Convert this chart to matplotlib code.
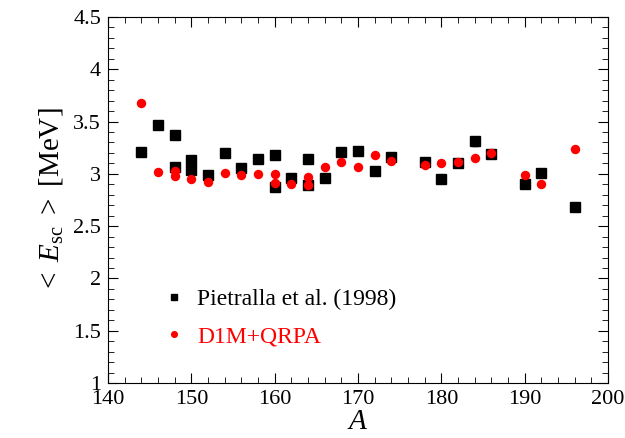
import matplotlib
matplotlib.use("Agg")
import matplotlib.pyplot as plt
from matplotlib.ticker import MultipleLocator

plt.rcParams["font.family"] = ["Liberation Serif", "DejaVu Serif"]
plt.rcParams["mathtext.fontset"] = "custom"
plt.rcParams["mathtext.rm"] = "Liberation Serif"
plt.rcParams["mathtext.it"] = "Liberation Serif:italic"

# Pietralla et al. (1998) experimental values
exp_A = [144, 146, 148, 148, 150, 150, 152, 154, 156, 158, 160, 160, 162, 164, 164,
         166, 168, 170, 172, 174, 178, 180, 182, 184, 186, 190, 192, 196]
exp_E = [3.21, 3.47, 3.375, 3.07, 3.13, 3.04, 2.99, 3.20, 3.06, 3.14, 3.18, 2.87, 2.96, 3.14, 2.89,
         2.96, 3.21, 3.22, 3.03, 3.16, 3.11, 2.95, 3.10, 3.31, 3.19, 2.90, 3.01, 2.68]
exp_err = [0.0, 0.0, 0.0, 0.0, 0.0, 0.0, 0.0, 0.0, 0.0, 0.0, 0.0, 0.0, 0.0, 0.0, 0.0,
           0.0, 0.0, 0.0, 0.04, 0.02, 0.0, 0.0, 0.0, 0.04, 0.0, 0.0, 0.0, 0.0]

# D1M+QRPA calculation
th_A = [144, 146, 148, 148, 150, 152, 154, 156, 158, 160, 160, 162, 164, 164,
        166, 168, 170, 172, 174, 178, 180, 182, 184, 186, 190, 192, 196]
th_E = [3.68, 3.02, 3.03, 2.98, 2.955, 2.92, 3.01, 2.99, 3.00, 3.00, 2.91, 2.90, 2.97, 2.89,
        3.07, 3.11, 3.07, 3.18, 3.12, 3.08, 3.10, 3.11, 3.15, 3.20, 2.99, 2.90, 3.24]

fig = plt.figure(figsize=(6.25, 4.38), dpi=100)
ax = fig.add_axes([0.1728, 0.1256, 0.80, 0.8356])

ax.errorbar(exp_A, exp_E, yerr=exp_err, fmt="none", ecolor="black",
            elinewidth=1, capsize=2, zorder=2)
h_exp, = ax.plot(exp_A, exp_E, "s", color="black", ms=6.5, zorder=2,
                 label="Pietralla et al. (1998)")
h_th, = ax.plot(th_A, th_E, "o", color="red", ms=6.8, mec="none",
                label="D1M+QRPA", zorder=3)

ax.set_xlim(140, 200)
ax.set_ylim(1, 4.5)
ax.xaxis.set_major_locator(MultipleLocator(10))
ax.xaxis.set_minor_locator(MultipleLocator(2))
ax.yaxis.set_major_locator(MultipleLocator(0.5))
ax.yaxis.set_minor_locator(MultipleLocator(0.1))
ax.yaxis.set_major_formatter(plt.FuncFormatter(lambda v, p: f"{v:g}"))
ax.tick_params(which="both", direction="in", top=True, right=True, labelsize=16)
ax.tick_params(which="major", length=7, pad=5)
ax.tick_params(which="minor", length=4)

ax.set_xlabel(r"$\mathit{A}$", fontsize=21, labelpad=0)
ax.set_ylabel(r"$<\ \mathit{E}_{\mathrm{sc}}\ >$ [MeV]", fontsize=21, labelpad=6)

leg = ax.legend(handles=[h_exp, h_th], loc="lower left",
                bbox_to_anchor=(0.065, 0.04), frameon=False,
                fontsize=17, handletextpad=0.5, labelspacing=0.65,
                markerscale=0.75, handlelength=1.0)
for txt, c in zip(leg.get_texts(), ["black", "red"]):
    txt.set_color(c)

plt.savefig("out.png", dpi=100)
